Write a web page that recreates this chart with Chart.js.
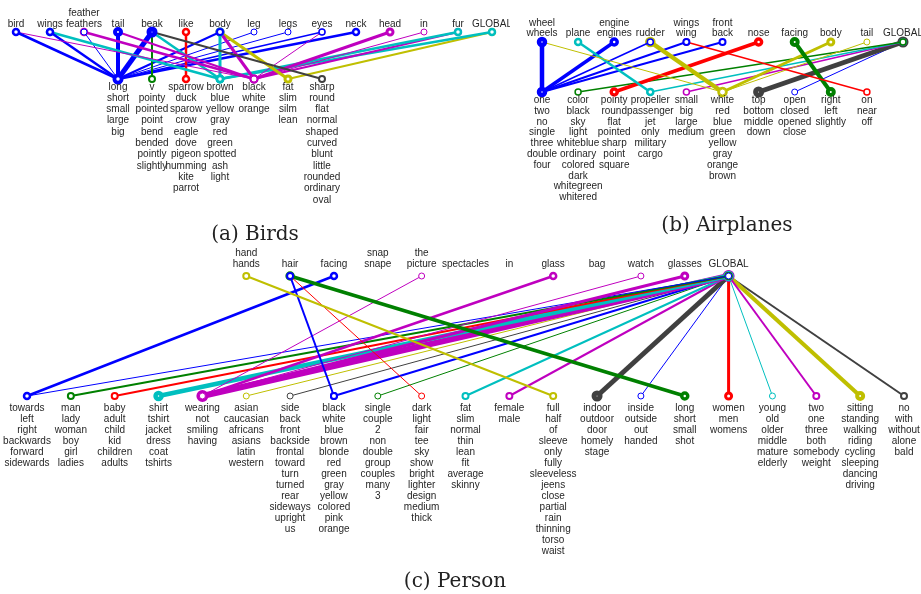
<!DOCTYPE html>
<html>
<head>
<meta charset="utf-8">
<script src="https://cdn.jsdelivr.net/npm/chart.js@4.4.0/dist/chart.umd.min.js"></script>
<style>
  body { margin: 0; background: #fff; }
  #fig { position: relative; width: 921px; height: 594px; overflow: hidden; }
  #fig canvas { position: absolute; }
  .cap { position: absolute; font-family: "DejaVu Serif", serif; font-size: 20px; color: #222;
         transform: translateX(-50%); white-space: nowrap; line-height: 1; }
</style>
</head>
<body>
<div id="fig">
  <canvas id="birdsChart" width="510" height="215" style="left:0;top:0"></canvas>
  <canvas id="planesChart" width="411" height="215" style="left:510px;top:0"></canvas>
  <canvas id="personChart" width="921" height="330" style="left:0;top:240px"></canvas>
  <div class="cap" style="left:255px;top:223px">(a) Birds</div>
  <div class="cap" style="left:727px;top:214px">(b) Airplanes</div>
  <div class="cap" style="left:455px;top:570px">(c) Person</div>
</div>
<script>
/* Birds: parts (top row), attribute clusters (bottom row), links [part, attr, weight] */
const birdParts = [['bird'], ['wings'], ['feather', 'feathers'], ['tail'], ['beak'], ['like'], ['body'],
  ['leg'], ['legs'], ['eyes'], ['neck'], ['head'], ['in'], ['fur'], ['GLOBAL']];
const birdAttrs = [
  ['long', 'short', 'small', 'large', 'big'],
  ['v', 'pointy', 'pointed', 'point', 'bend', 'bended', 'pointly', 'slightly'],
  ['sparrow', 'duck', 'sparow', 'crow', 'eagle', 'dove', 'pigeon', 'humming', 'kite', 'parrot'],
  ['brown', 'blue', 'yellow', 'gray', 'red', 'green', 'spotted', 'ash', 'light'],
  ['black', 'white', 'orange'],
  ['fat', 'slim', 'silm', 'lean'],
  ['sharp', 'round', 'flat', 'normal', 'shaped', 'curved', 'blunt', 'little', 'rounded', 'ordinary', 'oval']
];
const birdEdges = [
  [0, 0, 2.5], [0, 4, 1],
  [1, 0, 2.5], [1, 3, 2.5],
  [2, 0, 1], [2, 4, 2.5],
  [3, 0, 4], [3, 4, 2],
  [4, 0, 5], [4, 1, 2], [4, 3, 2.5], [4, 6, 2],
  [5, 2, 2.5],
  [6, 0, 2], [6, 3, 3], [6, 4, 3], [6, 5, 3],
  [7, 0, 1], [8, 0, 1], [9, 0, 1.5], [9, 4, 1],
  [10, 0, 2.5],
  [11, 4, 3],
  [12, 4, 1],
  [13, 3, 2.5], [13, 4, 2],
  [14, 3, 2.5], [14, 5, 2]
];

/* Airplanes */
const planeParts = [['wheel', 'wheels'], ['plane'], ['engine', 'engines'], ['rudder'], ['wings', 'wing'],
  ['front', 'back'], ['nose'], ['facing'], ['body'], ['tail'], ['GLOBAL']];
const planeAttrs = [
  ['one', 'two', 'no', 'single', 'three', 'double', 'four'],
  ['color', 'black', 'sky', 'light', 'whiteblue', 'ordinary', 'colored', 'dark', 'whitegreen', 'whitered'],
  ['pointy', 'round', 'flat', 'pointed', 'sharp', 'point', 'square'],
  ['propeller', 'passenger', 'jet', 'only', 'military', 'cargo'],
  ['small', 'big', 'large', 'medium'],
  ['white', 'red', 'blue', 'green', 'yellow', 'gray', 'orange', 'brown'],
  ['top', 'bottom', 'middle', 'down'],
  ['open', 'closed', 'opened', 'close'],
  ['right', 'left', 'slightly'],
  ['on', 'near', 'off']
];
const planeEdges = [
  [0, 0, 4.5], [0, 5, 1],
  [1, 3, 2.5],
  [2, 0, 3.5],
  [3, 0, 1.5], [3, 5, 4.5],
  [4, 0, 2], [4, 9, 1.5],
  [5, 0, 2],
  [6, 2, 3.5],
  [7, 8, 4],
  [8, 5, 3],
  [9, 5, 1],
  [10, 1, 1.5], [10, 3, 1.5], [10, 4, 1.5], [10, 6, 5], [10, 7, 1]
];

/* Person */
const personParts = [['hand', 'hands'], ['hair'], ['facing'], ['snap', 'snape'], ['the', 'picture'], ['spectacles'],
  ['in'], ['glass'], ['bag'], ['watch'], ['glasses'], ['GLOBAL']];
const personAttrs = [
  ['towards', 'left', 'right', 'backwards', 'forward', 'sidewards'],
  ['man', 'lady', 'woman', 'boy', 'girl', 'ladies'],
  ['baby', 'adult', 'child', 'kid', 'children', 'adults'],
  ['shirt', 'tshirt', 'jacket', 'dress', 'coat', 'tshirts'],
  ['wearing', 'not', 'smiling', 'having'],
  ['asian', 'caucasian', 'africans', 'asians', 'latin', 'western'],
  ['side', 'back', 'front', 'backside', 'frontal', 'toward', 'turn', 'turned', 'rear', 'sideways', 'upright', 'us'],
  ['black', 'white', 'blue', 'brown', 'blonde', 'red', 'green', 'gray', 'yellow', 'colored', 'pink', 'orange'],
  ['single', 'couple', '2', 'non', 'double', 'group', 'couples', 'many', '3'],
  ['dark', 'light', 'fair', 'tee', 'sky', 'show', 'bright', 'lighter', 'design', 'medium', 'thick'],
  ['fat', 'slim', 'normal', 'thin', 'lean', 'fit', 'average', 'skinny'],
  ['female', 'male'],
  ['full', 'half', 'of', 'sleeve', 'only', 'fully', 'sleeveless', 'jeens', 'close', 'partial', 'rain', 'thinning', 'torso', 'waist'],
  ['indoor', 'outdoor', 'door', 'homely', 'stage'],
  ['inside', 'outside', 'out', 'handed'],
  ['long', 'short', 'small', 'shot'],
  ['women', 'men', 'womens'],
  ['young', 'old', 'older', 'middle', 'mature', 'elderly'],
  ['two', 'one', 'three', 'both', 'somebody', 'weight'],
  ['sitting', 'standing', 'walking', 'riding', 'cycling', 'sleeping', 'dancing', 'driving'],
  ['no', 'with', 'without', 'alone', 'bald']
];
const personEdges = [
  [0, 12, 2],
  [1, 7, 2], [1, 9, 1], [1, 15, 3.5],
  [2, 0, 2.5],
  [4, 4, 1],
  [7, 4, 2.5],
  [9, 4, 1],
  [10, 4, 3],
  [11, 0, 1], [11, 1, 2], [11, 2, 2], [11, 3, 4.5], [11, 4, 6], [11, 5, 1], [11, 6, 1], [11, 7, 2],
  [11, 8, 1], [11, 10, 2], [11, 11, 2], [11, 13, 5], [11, 14, 1], [11, 16, 3], [11, 17, 1],
  [11, 18, 2], [11, 19, 4], [11, 20, 2]
];

// colour order of the attribute clusters (b g r c m y k)
const palette = ['#0000ff', '#008000', '#ff0000', '#00bfbf', '#bf00bf', '#bfbf00', '#404040'];

function edgeDatasets(edges, topStart, bottomStart) {
  return edges.map(function (e) {
    const col = palette[e[1] % palette.length];
    return {
      data: [{ x: e[0] + topStart, y: 1 }, { x: e[1] + bottomStart, y: 0 }],
      showLine: true,
      borderColor: col,
      borderWidth: e[2],
      pointRadius: 3,
      pointBorderWidth: e[2],
      pointBorderColor: col,
      pointBackgroundColor: '#fff',
      clip: false
    };
  });
}

function labelPlugin(parts, attrs, topStart, bottomStart, st) {
  return {
    id: 'nodeLabels',
    afterDatasetsDraw(chart) {
      const ctx = chart.ctx, x = chart.scales.x, y = chart.scales.y;
      ctx.save();
      ctx.font = '10px "Liberation Sans", Arial, sans-serif';
      ctx.fillStyle = '#262626';
      ctx.textAlign = 'center';
      ctx.textBaseline = 'middle';
      const yt = y.getPixelForValue(1), yb = y.getPixelForValue(0);
      parts.forEach(function (lines, i) {
        const px = x.getPixelForValue(i + topStart);
        lines.forEach(function (t, k) {
          ctx.fillText(t, px, yt - st.top - (lines.length - 1 - k) * st.lh);
        });
      });
      attrs.forEach(function (lines, i) {
        const px = x.getPixelForValue(i + bottomStart);
        lines.forEach(function (t, k) {
          ctx.fillText(t, px, yb + st.bottom + k * st.lh);
        });
      });
      ctx.restore();
    }
  };
}

function makeGraph(id, parts, attrs, edges, topStart, bottomStart, pad, st) {
  const nCols = Math.max(parts.length + topStart, attrs.length + bottomStart) - 1;
  return new Chart(document.getElementById(id), {
    type: 'scatter',
    data: { datasets: edgeDatasets(edges, topStart, bottomStart) },
    options: {
      responsive: false,
      animation: false,
      devicePixelRatio: 1,
      layout: { padding: pad, autoPadding: false },
      plugins: { legend: { display: false }, tooltip: { enabled: false } },
      scales: {
        x: { type: 'linear', min: 0, max: nCols, display: false },
        y: { type: 'linear', min: 0, max: 1, display: false }
      }
    },
    plugins: [labelPlugin(parts, attrs, topStart, bottomStart, st)]
  });
}

const birdsChart = makeGraph('birdsChart', birdParts, birdAttrs, birdEdges, 0, 3,
  { left: 16, right: 18, top: 32, bottom: 136 }, { top: 7.5, bottom: 7.8, lh: 11.3 });
const planesChart = makeGraph('planesChart', planeParts, planeAttrs, planeEdges, 0, 0,
  { left: 32, right: 18, top: 42, bottom: 123 }, { top: 8.3, bottom: 8.3, lh: 10.8 });
const personChart = makeGraph('personChart', personParts, personAttrs, personEdges, 5, 0,
  { left: 27, right: 17, top: 36, bottom: 174 }, { top: 11.3, bottom: 12, lh: 11 });
</script>
</body>
</html>
